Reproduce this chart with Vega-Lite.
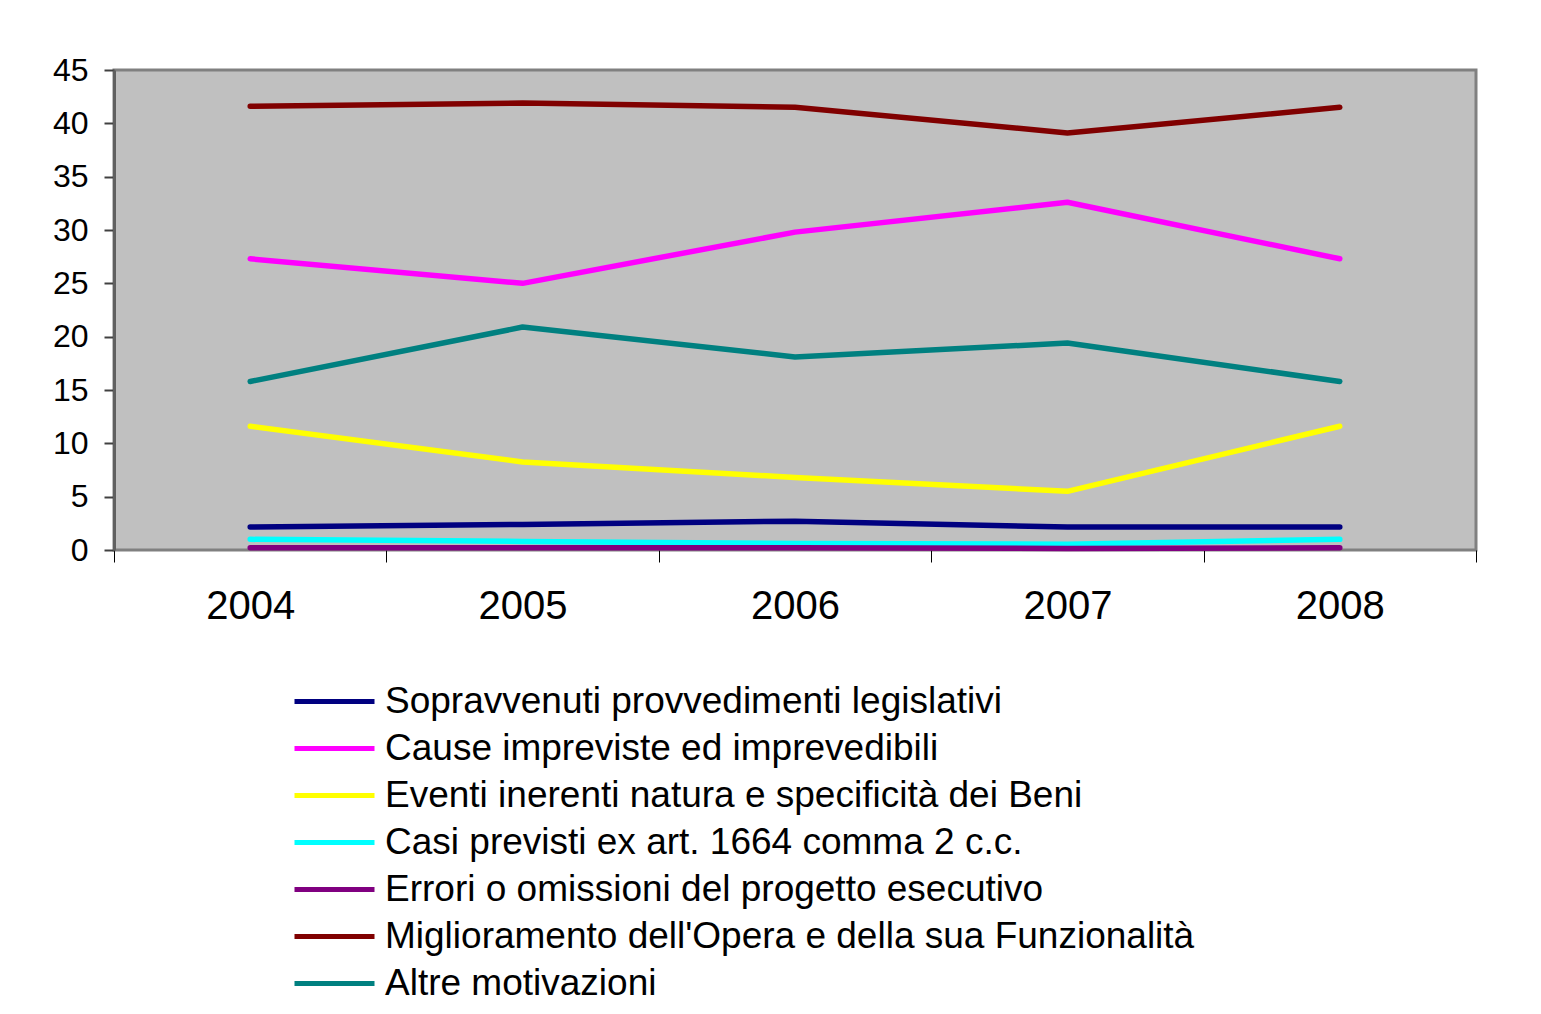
{
  "$schema": "https://vega.github.io/schema/vega-lite/v6.json",
  "width": 1362,
  "height": 480,
  "autosize": {"type": "none"},
  "padding": {"left": 114, "top": 70, "right": 65, "bottom": 464},
  "background": "white",
  "config": {
    "view": {"fill": "#C0C0C0", "stroke": "#808080", "strokeWidth": 3},
    "font": "Liberation Sans"
  },
  "data": {
    "values": [
      {"year": "2004", "serie": "Sopravvenuti provvedimenti legislativi", "v": 2.15},
      {"year": "2005", "serie": "Sopravvenuti provvedimenti legislativi", "v": 2.4},
      {"year": "2006", "serie": "Sopravvenuti provvedimenti legislativi", "v": 2.7},
      {"year": "2007", "serie": "Sopravvenuti provvedimenti legislativi", "v": 2.15},
      {"year": "2008", "serie": "Sopravvenuti provvedimenti legislativi", "v": 2.15},
      {"year": "2004", "serie": "Cause impreviste ed imprevedibili", "v": 27.3},
      {"year": "2005", "serie": "Cause impreviste ed imprevedibili", "v": 25.0},
      {"year": "2006", "serie": "Cause impreviste ed imprevedibili", "v": 29.8},
      {"year": "2007", "serie": "Cause impreviste ed imprevedibili", "v": 32.6},
      {"year": "2008", "serie": "Cause impreviste ed imprevedibili", "v": 27.3},
      {"year": "2004", "serie": "Eventi inerenti natura e specificità dei Beni", "v": 11.6},
      {"year": "2005", "serie": "Eventi inerenti natura e specificità dei Beni", "v": 8.25},
      {"year": "2006", "serie": "Eventi inerenti natura e specificità dei Beni", "v": 6.8},
      {"year": "2007", "serie": "Eventi inerenti natura e specificità dei Beni", "v": 5.5},
      {"year": "2008", "serie": "Eventi inerenti natura e specificità dei Beni", "v": 11.6},
      {"year": "2004", "serie": "Casi previsti ex art. 1664 comma 2 c.c.", "v": 1.0},
      {"year": "2005", "serie": "Casi previsti ex art. 1664 comma 2 c.c.", "v": 0.8},
      {"year": "2006", "serie": "Casi previsti ex art. 1664 comma 2 c.c.", "v": 0.6},
      {"year": "2007", "serie": "Casi previsti ex art. 1664 comma 2 c.c.", "v": 0.55},
      {"year": "2008", "serie": "Casi previsti ex art. 1664 comma 2 c.c.", "v": 1.0},
      {"year": "2004", "serie": "Errori o omissioni del progetto esecutivo", "v": 0.2},
      {"year": "2005", "serie": "Errori o omissioni del progetto esecutivo", "v": 0.2},
      {"year": "2006", "serie": "Errori o omissioni del progetto esecutivo", "v": 0.2},
      {"year": "2007", "serie": "Errori o omissioni del progetto esecutivo", "v": 0.15},
      {"year": "2008", "serie": "Errori o omissioni del progetto esecutivo", "v": 0.2},
      {"year": "2004", "serie": "Miglioramento dell'Opera e della sua Funzionalità", "v": 41.6},
      {"year": "2005", "serie": "Miglioramento dell'Opera e della sua Funzionalità", "v": 41.9},
      {"year": "2006", "serie": "Miglioramento dell'Opera e della sua Funzionalità", "v": 41.5},
      {"year": "2007", "serie": "Miglioramento dell'Opera e della sua Funzionalità", "v": 39.1},
      {"year": "2008", "serie": "Miglioramento dell'Opera e della sua Funzionalità", "v": 41.5},
      {"year": "2004", "serie": "Altre motivazioni", "v": 15.8},
      {"year": "2005", "serie": "Altre motivazioni", "v": 20.9},
      {"year": "2006", "serie": "Altre motivazioni", "v": 18.1},
      {"year": "2007", "serie": "Altre motivazioni", "v": 19.4},
      {"year": "2008", "serie": "Altre motivazioni", "v": 15.8}
    ]
  },
  "mark": {"type": "line", "strokeWidth": 5.5, "strokeCap": "round", "strokeJoin": "round"},
  "encoding": {
    "x": {
      "field": "year", "type": "ordinal",
      "scale": {"type": "band", "paddingInner": 0, "paddingOuter": 0},
      "bandPosition": 0.5,
      "axis": {
        "title": null, "labelAngle": 0, "labelFontSize": 40, "labelColor": "black",
        "labelPadding": 24, "tickBand": "extent", "tickSize": 12, "tickColor": "black",
        "tickWidth": 1, "domain": false
      }
    },
    "y": {
      "field": "v", "type": "quantitative",
      "scale": {"domain": [0, 45], "nice": false},
      "axis": {
        "title": null, "values": [0, 5, 10, 15, 20, 25, 30, 35, 40, 45],
        "labelFontSize": 32, "labelColor": "black", "labelPadding": 16,
        "tickSize": 10, "tickColor": "#404040", "tickWidth": 2, "grid": false,
        "domainColor": "#606060", "domainWidth": 3
      }
    },
    "color": {
      "field": "serie", "type": "nominal",
      "sort": [
        "Sopravvenuti provvedimenti legislativi",
        "Cause impreviste ed imprevedibili",
        "Eventi inerenti natura e specificità dei Beni",
        "Casi previsti ex art. 1664 comma 2 c.c.",
        "Errori o omissioni del progetto esecutivo",
        "Miglioramento dell'Opera e della sua Funzionalità",
        "Altre motivazioni"
      ],
      "scale": {
        "domain": [
          "Sopravvenuti provvedimenti legislativi",
          "Cause impreviste ed imprevedibili",
          "Eventi inerenti natura e specificità dei Beni",
          "Casi previsti ex art. 1664 comma 2 c.c.",
          "Errori o omissioni del progetto esecutivo",
          "Miglioramento dell'Opera e della sua Funzionalità",
          "Altre motivazioni"
        ],
        "range": ["#000080", "#FF00FF", "#FFFF00", "#00FFFF", "#800080", "#800000", "#008080"]
      },
      "legend": {
        "title": null, "orient": "none", "legendX": 178, "legendY": 608,
        "direction": "vertical", "symbolType": "stroke", "symbolSize": 6400,
        "symbolStrokeWidth": 5, "labelFontSize": 37, "labelColor": "black",
        "rowPadding": 0, "clipHeight": 47, "labelOffset": 8, "labelLimit": 1200
      }
    }
  }
}
